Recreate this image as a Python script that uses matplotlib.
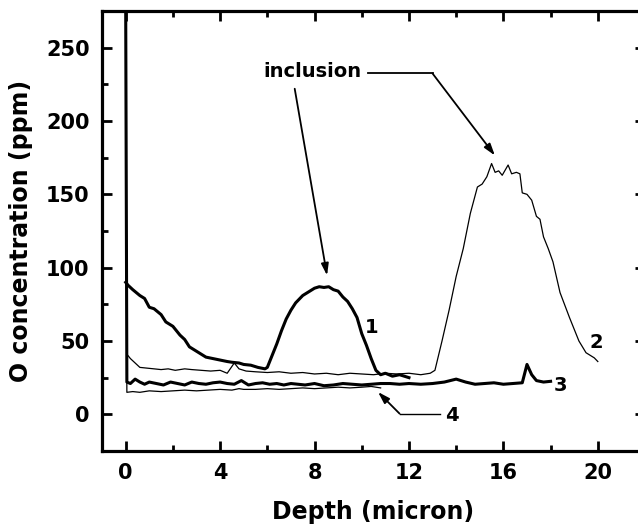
import matplotlib
matplotlib.use("Agg")
import matplotlib.pyplot as plt
from matplotlib.ticker import MultipleLocator

# ---- data ----
x1 = [0.0, 0.1, 0.3, 0.6, 0.8, 1.0, 1.2, 1.5, 1.7, 2.0, 2.3, 2.5, 2.7, 3.0, 3.2, 3.4, 3.7, 4.0,
      4.3, 4.5, 4.8, 5.0, 5.3, 5.6, 5.9, 6.0, 6.2, 6.4, 6.6, 6.8, 7.0, 7.2, 7.5, 7.8, 8.0, 8.2,
      8.4, 8.6, 8.8, 9.0, 9.2, 9.4, 9.6, 9.8, 10.0, 10.2, 10.4, 10.6, 10.8, 11.0, 11.3, 11.6, 12.0]
y1 = [90, 88, 85, 81, 79, 73, 72, 68, 63, 60, 54, 51, 46, 43, 41, 39, 38, 37,
      36, 35.5, 35, 34, 33.5, 32, 31, 32, 40, 48, 57, 65, 71, 76, 81, 84, 86, 87,
      86.5, 87, 85, 84, 80, 77, 72, 66, 55, 47, 38, 30, 27, 28, 26, 27, 25]

x2 = [0.1, 0.2, 0.4, 0.6, 0.9, 1.2, 1.5, 1.8, 2.1, 2.5, 2.8, 3.2, 3.6, 4.0, 4.3, 4.6, 4.8, 5.1,
      5.5, 6.0, 6.5, 7.0, 7.5, 8.0, 8.5, 9.0, 9.5, 10.0, 10.5, 11.0, 11.5, 12.0, 12.5, 12.9,
      13.1, 13.4, 13.7, 14.0, 14.3, 14.6, 14.9, 15.1, 15.3, 15.5, 15.65, 15.8, 15.95, 16.2,
      16.35, 16.55, 16.7, 16.8, 17.0, 17.2, 17.4, 17.55, 17.7, 17.9, 18.1, 18.4, 18.8, 19.2,
      19.5, 19.7, 19.85, 20.0]
y2 = [40, 38, 35, 32, 31.5, 31, 30.5, 31, 30, 31, 30.5, 30, 29.5, 30, 28, 35, 31, 29.5,
      29, 28.5, 29, 28, 28.5, 27.5, 28, 27, 28, 27.5, 27, 28, 27.5, 28, 27, 28,
      30, 50, 71, 94, 113, 137, 155, 157, 162, 171, 165, 166, 163, 170,
      164, 165, 164, 151, 150, 146, 135, 133, 121, 113, 104, 83, 66, 50,
      42, 40, 38.5, 36]

x3 = [0.0, 0.05, 0.2, 0.4, 0.6, 0.8, 1.0, 1.3, 1.6, 1.9, 2.2, 2.5, 2.8, 3.1, 3.4, 3.7, 4.0,
      4.3, 4.6, 4.9, 5.2, 5.5, 5.8, 6.1, 6.4, 6.7, 7.0, 7.3, 7.6, 8.0, 8.4, 8.8, 9.2, 9.6,
      10.0, 10.4, 10.8, 11.2, 11.6, 12.0, 12.5, 13.0, 13.5, 14.0, 14.4, 14.8, 15.2, 15.6,
      16.0, 16.4, 16.8, 17.0, 17.2, 17.4, 17.7, 18.0]
y3 = [280, 22, 21, 24, 22, 20.5, 22, 21, 20, 22, 21, 20, 22, 21, 20.5, 21.5, 22,
      21, 20.5, 23, 20, 21, 21.5, 20.5, 21, 20, 21, 20.5, 20, 21, 19.5, 20, 21, 20.5,
      20, 20.5, 21, 21, 20.5, 21, 20.5, 21, 22, 24, 22, 20.5, 21, 21.5,
      20.5, 21, 21.5, 34, 27, 23, 22, 22.5]

x4 = [0.0, 0.05, 0.3, 0.6, 1.0, 1.5, 2.0, 2.5, 3.0, 3.5, 4.0, 4.5, 4.8, 5.0, 5.5, 6.0,
      6.5, 7.0, 7.5, 8.0, 8.5, 9.0, 9.5, 10.0, 10.4, 10.8]
y4 = [280, 15, 15.5, 15, 16, 15.5, 16, 16.5, 16, 16.5, 17, 16.5, 17.5, 17, 17, 17.5,
      17, 17.5, 18, 17.5, 18, 18.5, 18, 18.5, 19, 18]

xticks = [0, 4, 8, 12, 16, 20]
yticks = [0, 50, 100, 150, 200, 250]

fig = plt.figure(figsize=(6.38, 5.25), dpi=100)
ax = fig.add_axes([0.16, 0.141, 0.851, 0.838])

ax.plot(x1, y1, color="black", lw=2.2)
ax.plot(x2, y2, color="black", lw=0.9)
ax.plot(x3, y3, color="black", lw=2.2)
ax.plot(x4, y4, color="black", lw=0.9)

ax.set_xlim(-1, 22)
ax.set_ylim(-25, 275)
ax.set_xticks(xticks)
ax.set_yticks(yticks)
ax.xaxis.set_minor_locator(MultipleLocator(2))
ax.yaxis.set_minor_locator(MultipleLocator(25))
ax.tick_params(which="both", direction="in", top=True, right=True, width=2)
ax.tick_params(which="major", length=7, pad=9)
ax.tick_params(which="minor", length=4)
for lab in ax.get_xticklabels() + ax.get_yticklabels():
    lab.set_fontsize(15)
    lab.set_fontweight("bold")
for s in ax.spines.values():
    s.set_linewidth(2.3)

ax.set_xlabel("Depth (micron)", fontsize=17, fontweight="bold", labelpad=12)
ax.set_ylabel("O concentration (ppm)", fontsize=17, fontweight="bold", labelpad=9)

# annotations
aprops = dict(arrowstyle="-|>,head_length=0.7,head_width=0.22", color="black", lw=1.3,
              shrinkA=0, shrinkB=0)
ax.text(7.9, 233.5, "inclusion", fontsize=14, fontweight="bold", ha="center", va="center")
ax.annotate("", xy=(8.53, 94.7), xytext=(7.16, 222), arrowprops=aprops)
ax.plot([10.25, 13.0], [232.4, 232.4], color="black", lw=1.3)
ax.annotate("", xy=(15.64, 176.5), xytext=(13.0, 232.4), arrowprops=aprops)
ax.plot([13.3, 11.6], [0.5, 0.5], color="black", lw=1.0)
ax.annotate("", xy=(10.69, 15.2), xytext=(11.6, 0.5), arrowprops=aprops)

for tx, ty, t in [(10.4, 59.5, "1"), (19.94, 49, "2"), (18.4, 19.8, "3"), (13.8, -0.7, "4")]:
    ax.text(tx, ty, t, fontsize=14, fontweight="bold", ha="center", va="center")

fig.savefig("out.png", dpi=100)
